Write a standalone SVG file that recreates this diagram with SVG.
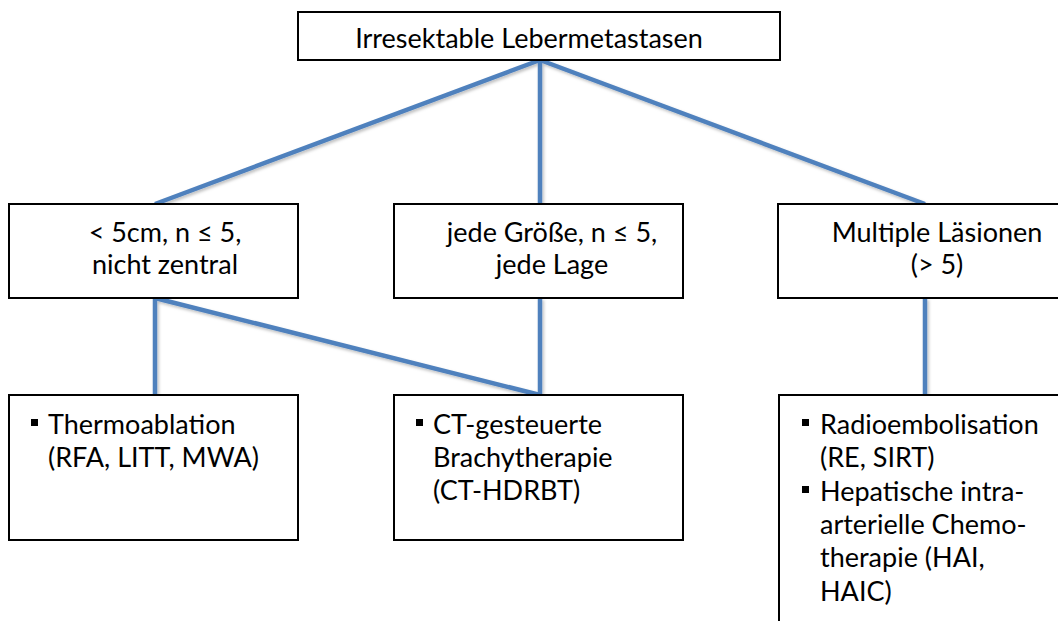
<svg xmlns="http://www.w3.org/2000/svg" width="1058" height="621" viewBox="0 0 1058 621">
<defs>
<style>
.box{fill:#fff;stroke:#000;stroke-width:2}
.t{font-family:Lato,"Open Sans","Liberation Sans",sans-serif;font-size:27px;fill:#000}
.c{text-anchor:middle}
.conn line{stroke:#4F81BD;stroke-width:4.5;stroke-linecap:butt}
.bul{fill:#000}
</style>
<filter id="sh" x="-10%" y="-10%" width="120%" height="120%">
<feDropShadow dx="1.5" dy="2" stdDeviation="1.5" flood-color="#000" flood-opacity="0.25"/>
</filter>
</defs>
<rect width="1058" height="621" fill="#fff"/>
<g class="conn" id="connectors" filter="url(#sh)">
<line x1="540" y1="60" x2="155" y2="204"/>
<line x1="540" y1="60" x2="540" y2="204"/>
<line x1="540" y1="60" x2="925" y2="204"/>
<line x1="155" y1="298" x2="155" y2="395"/>
<line x1="155" y1="298" x2="540" y2="395"/>
<line x1="540" y1="298" x2="540" y2="395"/>
<line x1="925" y1="298" x2="925" y2="395"/>
</g>
<g id="n-top">
<rect class="box" x="298" y="12" width="482" height="48"/>
<text class="t c" x="529" y="48">Irresektable Lebermetastasen</text>
</g>
<g id="n-small">
<rect class="box" x="9" y="204" width="289" height="94"/>
<text class="t c" x="165" y="242">&lt; 5cm, n ≤ 5,</text>
<text class="t c" x="165" y="274">nicht zentral</text>
</g>
<g id="n-any">
<rect class="box" x="394" y="204" width="289" height="94"/>
<text class="t c" x="552" y="242">jede Größe, n ≤ 5,</text>
<text class="t c" x="552" y="274">jede Lage</text>
</g>
<g id="n-multi">
<rect class="box" x="778" y="204" width="290" height="94"/>
<text class="t c" x="937" y="242">Multiple Läsionen</text>
<text class="t c" x="937" y="274">(&gt; 5)</text>
</g>
<g id="n-thermo">
<rect class="box" x="9" y="395" width="289" height="145"/>
<rect class="bul" x="31" y="419" width="7" height="7"/>
<text class="t" x="48" y="434">Thermoablation</text>
<text class="t" x="48" y="467">(RFA, LITT, MWA)</text>
</g>
<g id="n-brachy">
<rect class="box" x="394" y="395" width="289" height="145"/>
<rect class="bul" x="416" y="419" width="7" height="7"/>
<text class="t" x="433" y="434">CT-gesteuerte</text>
<text class="t" x="433" y="467">Brachytherapie</text>
<text class="t" x="433" y="500">(CT-HDRBT)</text>
</g>
<g id="n-radio">
<rect class="box" x="779" y="395" width="290" height="240"/>
<rect class="bul" x="802" y="419" width="7" height="7"/>
<text class="t" x="820" y="434">Radioembolisation</text>
<text class="t" x="820" y="467">(RE, SIRT)</text>
<rect class="bul" x="802" y="486" width="7" height="7"/>
<text class="t" x="820" y="501">Hepatische intra-</text>
<text class="t" x="820" y="534">arterielle Chemo-</text>
<text class="t" x="820" y="567">therapie (HAI,</text>
<text class="t" x="820" y="601">HAIC)</text>
</g>
</svg>
